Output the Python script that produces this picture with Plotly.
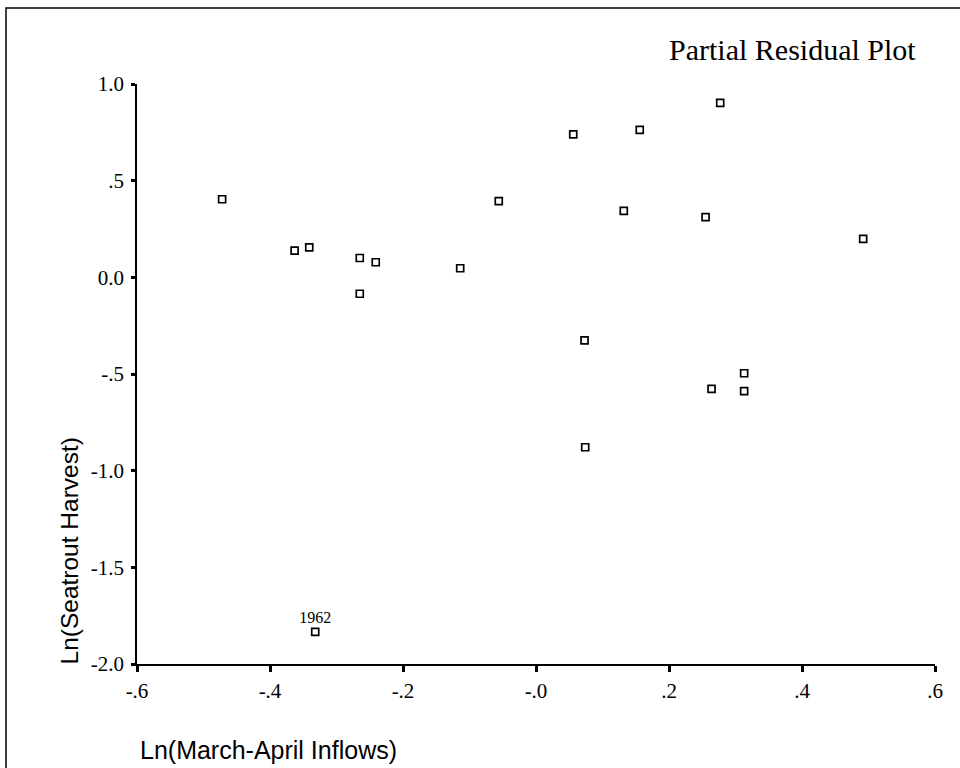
import plotly.graph_objects as go

# Data
x_inflow = [-0.472, -0.363, -0.341, -0.265, -0.241, -0.265, -0.114, -0.056, 0.056, 0.156,
            0.277, 0.132, 0.255, 0.492, 0.073, 0.313, 0.264, 0.313, 0.074, -0.332]
y_harvest = [0.404, 0.138, 0.155, 0.100, 0.078, -0.085, 0.047, 0.394, 0.739, 0.763,
             0.902, 0.344, 0.311, 0.199, -0.326, -0.496, -0.577, -0.589, -0.879, -1.834]
point_labels = [""] * 19 + ["1962"]

x_tickvals = [-0.6, -0.4, -0.2, 0.0, 0.2, 0.4, 0.6]
x_ticktext = ["-.6", "-.4", "-.2", "-.0", ".2", ".4", ".6"]
y_tickvals = [1.0, 0.5, 0.0, -0.5, -1.0, -1.5, -2.0]
y_ticktext = ["1.0", ".5", "0.0", "-.5", "-1.0", "-1.5", "-2.0"]

SERIF = "Liberation Serif, Times New Roman, serif"
SANS = "Liberation Sans, Arial, sans-serif"

fig = go.Figure()
fig.add_trace(go.Scatter(
    x=x_inflow, y=y_harvest, mode="markers+text",
    text=point_labels, textposition="top center",
    textfont=dict(family=SERIF, size=16, color="black"),
    marker=dict(symbol="square-open", size=7, color="black", line=dict(width=1.7, color="black")),
    showlegend=False, cliponaxis=False, hoverinfo="skip",
))

W, H = 960, 768
L, R, T, B = 137, 25, 84, 104
pw, ph = W - L - R, H - T - B

def px_x(p):
    return (p - L) / pw

def px_y(p):
    return (H - B - p) / ph

fig.update_layout(
    width=W, height=H,
    margin=dict(l=L, r=R, t=T, b=B, pad=0),
    paper_bgcolor="white", plot_bgcolor="white",
    xaxis=dict(range=[-0.6, 0.6], tickvals=x_tickvals, ticktext=x_ticktext,
               showgrid=False, zeroline=False, showline=True, linecolor="black", linewidth=1.8,
               ticks="outside", ticklen=6, tickwidth=3, tickcolor="black",
               ticklabelstandoff=1,
               tickfont=dict(family=SERIF, size=21, color="black")),
    yaxis=dict(range=[-2.0, 1.0], tickvals=y_tickvals, ticktext=y_ticktext,
               showgrid=False, zeroline=False, showline=True, linecolor="black", linewidth=1.8,
               ticks="outside", ticklen=4, tickwidth=3, tickcolor="black",
               ticklabelstandoff=3,
               tickfont=dict(family=SERIF, size=21, color="black")),
    shapes=[dict(type="rect", xref="paper", yref="paper",
                 x0=px_x(6), x1=px_x(975), y0=px_y(790), y1=px_y(8),
                 line=dict(color="black", width=1.5), fillcolor="rgba(0,0,0,0)")],
    annotations=[
        dict(text="Partial Residual Plot", xref="paper", yref="paper",
             x=px_x(918), y=px_y(49), xanchor="right", yanchor="middle", showarrow=False,
             font=dict(family=SERIF, size=30, color="black")),
        dict(text="Ln(March-April Inflows)", xref="paper", yref="paper",
             x=px_x(138), y=px_y(750), xanchor="left", yanchor="middle", showarrow=False,
             font=dict(family=SANS, size=25, color="black")),
        dict(text="Ln(Seatrout Harvest)", xref="paper", yref="paper", textangle=-90,
             x=px_x(69), y=px_y(667), xanchor="center", yanchor="bottom", showarrow=False,
             font=dict(family=SANS, size=24.5, color="black")),
    ],
)

fig.write_html(
    "out.html",
    config={"displayModeBar": False, "staticPlot": True},
    post_script="document.body.style.margin='0';document.body.style.overflow='hidden';",
)
